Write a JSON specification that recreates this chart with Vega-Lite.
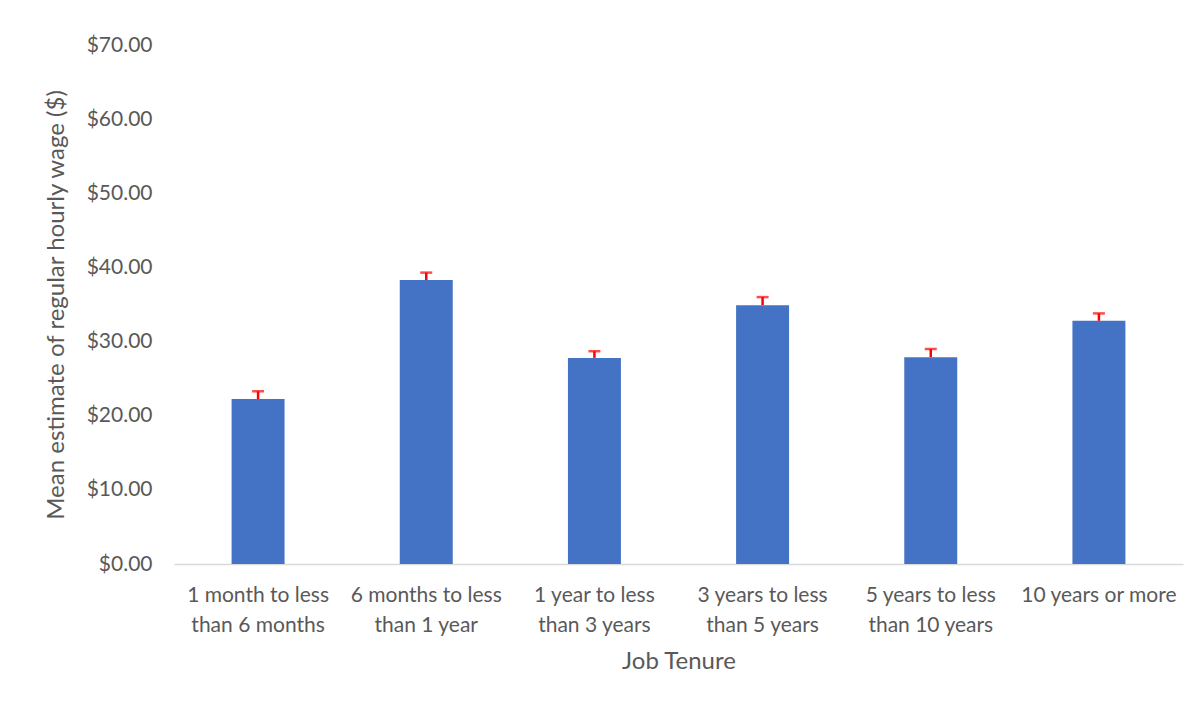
{
  "$schema": "https://vega.github.io/schema/vega-lite/v6.json",
  "width": 1009,
  "height": 519,
  "autosize": "none",
  "padding": {"left": 174, "top": 45, "right": 17, "bottom": 140},
  "background": "white",
  "config": {
    "view": {"stroke": null},
    "font": "Lato",
    "axis": {"labelColor": "#595959", "titleColor": "#595959", "labelFont": "Lato", "titleFont": "Lato", "titleFontWeight": "normal"}
  },
  "data": {
    "values": [
      {"tenure": "1 month to less than 6 months", "wage": 22.25, "upper": 23.3},
      {"tenure": "6 months to less than 1 year", "wage": 38.3, "upper": 39.3},
      {"tenure": "1 year to less than 3 years", "wage": 27.8, "upper": 28.7},
      {"tenure": "3 years to less than 5 years", "wage": 34.9, "upper": 36.0},
      {"tenure": "5 years to less than 10 years", "wage": 27.9, "upper": 29.0},
      {"tenure": "10 years or more", "wage": 32.8, "upper": 33.8}
    ]
  },
  "encoding": {
    "x": {
      "field": "tenure",
      "type": "nominal",
      "sort": null,
      "scale": {"paddingInner": 0.685, "paddingOuter": 0.3425},
      "axis": {
        "title": "Job Tenure",
        "titleFontSize": 24,
        "titlePadding": 14,
        "labelAngle": 0,
        "labelFontSize": 21,
        "labelPadding": 20,
        "labelLineHeight": 30,
        "labelBaseline": "top",
        "labelExpr": "indexof(datum.label, ' than ') > 0 ? [substring(datum.label, 0, indexof(datum.label, ' than ')), substring(datum.label, indexof(datum.label, ' than ') + 1)] : datum.label",
        "ticks": false,
        "domainColor": "#d9d9d9",
        "domainWidth": 1.5
      }
    }
  },
  "layer": [
    {
      "mark": {"type": "bar", "color": "#4472C4"},
      "encoding": {
        "y": {
          "field": "wage",
          "type": "quantitative",
          "scale": {"domain": [0, 70]},
          "axis": {
            "title": "Mean estimate of regular hourly wage ($)",
            "titleFontSize": 24,
            "titlePadding": 18,
            "values": [0, 10, 20, 30, 40, 50, 60, 70],
            "format": "$.2f",
            "labelFontSize": 21,
            "labelPadding": 22,
            "ticks": false,
            "domain": false,
            "grid": false
          }
        }
      }
    },
    {
      "mark": {"type": "rule", "color": "#FF0000", "strokeWidth": 2.5},
      "encoding": {
        "y": {"field": "wage", "type": "quantitative"},
        "y2": {"field": "upper"}
      }
    },
    {
      "mark": {"type": "tick", "color": "#FF0000", "thickness": 2.5, "size": 12, "orient": "horizontal"},
      "encoding": {
        "y": {"field": "upper", "type": "quantitative"}
      }
    }
  ]
}
